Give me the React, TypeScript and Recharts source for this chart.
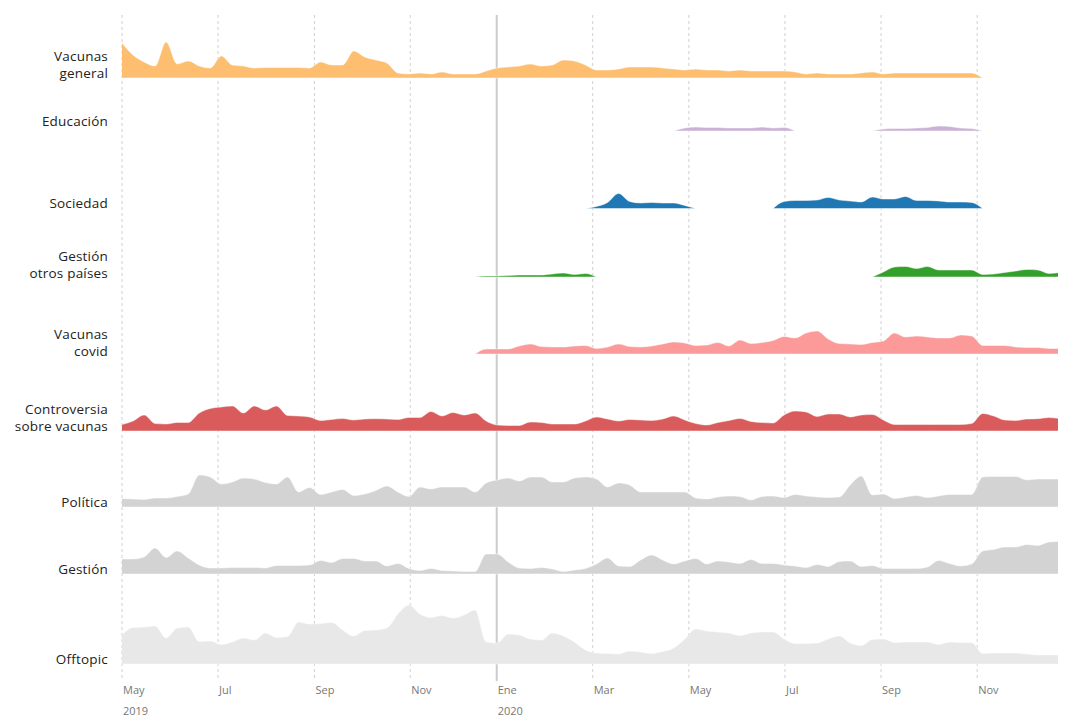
import React from 'react';
import { ComposedChart, Area, XAxis, YAxis, CartesianGrid } from 'recharts';

const _ = null;

// x categories: week index, week 0 = first week of May 2019
const weeks: number[] = Array.from({ length: 87 }, (_v, i) => i);

// month ticks (week positions) and labels
const tickWeeks = [0, 8.7, 17.44, 26.12, 33.96, 42.66, 51.37, 60.08, 68.79, 77.5];
const tickLabels = ['May', 'Jul', 'Sep', 'Nov', 'Ene', 'Mar', 'May', 'Jul', 'Sep', 'Nov'];
const tickYears = ['2019', '', '', '', '2020', '', '', '', '', ''];

// weekly activity per topic (relative height units)
const vacunasGeneral = [
  35, 23, 16, 12, 36, 14, 17, 12, 10, 22,
  13, 12, 10, 10.5, 10.5, 10.5, 10.5, 10, 16, 13,
  13, 27, 21, 18, 15, 5, 4, 5, 4, 6,
  4, 4, 4, 7, 10, 11, 12, 14, 12, 13,
  18, 17, 13, 8, 8, 9, 11, 11, 11, 10,
  9, 8, 9, 8, 8, 7, 8, 7, 7, 7,
  7, 6, 4, 5, 4, 4, 4, 5, 6, 4,
  5, 5, 5, 5, 5, 5, 5, 5, 0,
  _, _, _, _, _, _,
  0, 1,
];

const educacion = [
  _, _, _, _, _, _, _, _, _, _,
  _, _, _, _, _, _, _, _, _, _,
  _, _, _, _, _, _, _, _, _, _,
  _, _, _, _, _, _, _, _, _, _,
  _, _, _, _, _, _, _, _, _, _,
  0, 3, 4, 3.5, 3.5, 3, 3, 3, 4, 3, 3.5, 0,
  _, _, _, _, _, _,
  0, 2, 2.5, 2.5, 3, 3.5, 5, 4.5, 3, 2.5, 0,
  _, _, _, _, _, _,
  0, 0.5,
];

const sociedad = [
  _, _, _, _, _, _, _, _, _, _,
  _, _, _, _, _, _, _, _, _, _,
  _, _, _, _, _, _, _, _, _, _,
  _, _, _, _, _, _, _, _, _, _,
  _, _,
  0, 2, 6, 15, 7, 5.5, 6, 5.5, 5.5, 3, 0,
  _, _, _, _, _, _,
  0, 7, 8, 8, 8.5, 11, 8.5, 7.5, 6.5, 11.5, 9.5, 9.5, 12, 8, 8, 7.5, 6.5, 6.5, 6, 0,
  _, _, _, _, _, _,
  0, 1,
];

const gestionOtros = [
  _, _, _, _, _, _, _, _, _, _,
  _, _, _, _, _, _, _, _, _, _,
  _, _, _, _, _, _, _, _, _, _,
  _, _,
  0, 1, 1, 1.5, 2, 2, 2, 3, 4, 2.5, 3.5, 0,
  _, _, _, _, _, _, _, _, _, _,
  _, _, _, _, _, _, _, _, _, _,
  _, _, _, _,
  0, 5, 10, 10.5, 8.5, 10.5, 7, 7, 7, 7, 2.5, 3, 4.5, 6, 7.5, 7, 3.5, 4.5, 5,
];

const vacunasCovid = [
  _, _, _, _, _, _, _, _, _, _,
  _, _, _, _, _, _, _, _, _, _,
  _, _, _, _, _, _, _, _, _, _,
  _, _,
  0, 5, 5, 5, 8,
  10, 7.5, 7, 7, 8,
  8.5, 5.5, 7, 10, 7.5,
  7, 8, 10, 12, 11,
  8.5, 9, 11.5, 8, 14,
  10.5, 11.5, 13.5, 17.5, 16,
  21, 23, 15, 10.5, 10,
  9.5, 11.5, 13, 21, 17,
  18, 17, 16, 16, 19,
  18, 8.5, 8.5, 8.5, 7,
  6.5, 6.5, 5.5, 5.5, 5.5,
];

const controversia = [
  6.5, 10, 16, 7.5, 7, 8.5, 8.5, 18, 22.5, 24,
  25, 18, 25, 21, 25, 15.5, 15, 14, 10.5, 11.5,
  12.5, 11, 12, 12.3, 12, 11.5, 13.5, 13.5, 19.5, 15,
  18.5, 16, 18, 10, 6, 5.5, 5.5,
  9, 8.5, 7, 7, 7, 10, 14, 12, 10, 11.5,
  11, 10.5, 12, 15, 11, 7.5, 6, 8.5, 10.5, 12.5,
  9.5, 8.5, 8, 16, 20, 19, 14.5, 17, 17, 14,
  16, 16.5, 11, 6.5, 6.5, 6.5, 6.5, 6.5, 6.5, 6.5,
  7.5, 17.5, 15, 11, 10.5, 12, 12.3, 13.5, 12.5, 12.3,
];

const politica = [
  8.5, 8, 7.5, 9, 9, 10.5, 13, 32, 30, 23,
  25, 29, 28, 24.5, 23, 30, 15, 19.5, 12.5, 15,
  17.5, 11.5, 13, 16.5, 21, 15, 10.5, 20, 18, 20,
  20, 20, 15, 24, 27, 29, 26, 30,
  30, 25, 25, 29, 30, 28, 20, 24, 22, 15,
  15, 15, 15, 15, 9, 8, 10, 11, 10.5, 7,
  10.5, 11, 9.5, 12.5, 11, 10, 9.5, 10, 22, 31,
  12, 13, 8.5, 10, 11.5, 9.5, 11, 12.5, 12.5, 12.5,
  30, 30.5, 30.5, 30.5, 27, 28, 28, 28, 28,
];

const gestion = [
  15, 15, 17, 26, 16.5, 23, 16, 9, 6, 6,
  6.5, 6.5, 6.5, 6, 8.5, 8.5, 8.5, 9, 13.5, 11.5,
  15.5, 15.5, 13, 13, 8, 10.5, 5.5, 3.5, 5.5, 3.5,
  3, 2.5, 2.5, 20, 20, 12, 6, 5.5,
  6.5, 5, 2.5, 4, 5.5, 10, 16, 8, 7.5, 14,
  19, 14, 10, 13, 15.5, 10, 13, 12, 10.5, 14.5,
  10.5, 10.5, 9, 8, 6.5, 9.5, 7.5, 12.5, 13, 7.5,
  8.5, 5.5, 5.5, 5.5, 5.5, 7, 13.5, 10.5, 8, 10,
  23, 24.5, 27, 27, 29.5, 28.5, 32, 32.5, 32,
];

const offtopic = [
  29, 36.5, 37, 38, 26, 36, 37, 22.5, 23, 19.5,
  22, 26, 24, 31, 26.5, 27.5, 42, 40, 40.5, 41.5,
  34, 28, 33.5, 34, 36, 50, 59, 50, 46.5, 48.5,
  46, 49, 54, 22, 21, 30, 29, 25,
  24, 31, 28, 22, 14, 11, 10.5, 10, 13, 12,
  10.5, 12.5, 16, 25, 35, 33, 32, 31, 28.5, 31,
  32, 32, 25, 20.5, 20.5, 21, 25, 28, 21, 18.5,
  24.5, 25, 21.5, 22, 22, 22, 19.5, 22, 21.5, 21.5,
  10.5, 11, 11, 11, 10, 9, 9, 9, 9,
];

// row layout: baseline of each ridge (in px-units above the bottom of the plot)
const series = [
  { key: 'vacunasGeneral', values: vacunasGeneral, lines: ['Vacunas', 'general'], color: '#fdbf6f', base: 603, labelDy: 0 },
  { key: 'educacion', values: educacion, lines: ['Educación'], color: '#cab2d6', base: 550, labelDy: -5 },
  { key: 'sociedad', values: sociedad, lines: ['Sociedad'], color: '#1f78b4', base: 472.5, labelDy: -1 },
  { key: 'gestionOtros', values: gestionOtros, lines: ['Gestión', 'otros países'], color: '#33a02c', base: 404, labelDy: 1 },
  { key: 'vacunasCovid', values: vacunasCovid, lines: ['Vacunas', 'covid'], color: '#fb9a99', base: 327, labelDy: 2 },
  { key: 'controversia', values: controversia, lines: ['Controversia', 'sobre vacunas'], color: '#d95b5b', base: 250, labelDy: 0 },
  { key: 'politica', values: politica, lines: ['Política'], color: '#d3d3d3', base: 174, labelDy: 0 },
  { key: 'gestion', values: gestion, lines: ['Gestión'], color: '#d3d3d3', base: 107, labelDy: 0 },
  { key: 'offtopic', values: offtopic, lines: ['Offtopic'], color: '#e8e8e8', base: 17, labelDy: 0 },
];

const chartData = weeks.map((w, i) => {
  const row: Record<string, number | null> = { w };
  series.forEach((s) => {
    row[s.key] = s.values[i] as number | null;
  });
  return row;
});

const FONT = '"Open Sans", "DejaVu Sans", sans-serif';

const RowLabel = (props: any) => {
  const { x, y, payload } = props;
  const s = series.find((r) => r.base === payload.value);
  if (!s) return null;
  const n = s.lines.length;
  return (
    <g>
      {s.lines.map((ln, i) => (
        <text
          key={i}
          x={x}
          y={y + s.labelDy - (n - 1 - i) * 17}
          textAnchor="end"
          fontFamily={FONT}
          fontSize={13.5}
          letterSpacing={0.2}
          fill="#222"
        >
          {ln}
        </text>
      ))}
    </g>
  );
};

const MonthTick = (props: any) => {
  const { x, y, index } = props;
  const label = tickLabels[index];
  const year = tickYears[index];
  return (
    <g>
      <text x={x + 1} y={y + 13} fontFamily={FONT} fontSize={11} fill="#777" textAnchor="start">
        {label}
      </text>
      {year ? (
        <text x={x + 1} y={y + 34} fontFamily={FONT} fontSize={11} fill="#777" textAnchor="start">
          {year}
        </text>
      ) : null}
    </g>
  );
};

const GridLine = (p: any) => {
  const solid = p.index === 4;
  return (
    <line
      key={`grid-${p.index}`}
      x1={p.x1}
      y1={p.y1}
      x2={p.x2}
      y2={p.y2}
      stroke={solid ? '#cccccc' : '#d0d0d0'}
      strokeWidth={solid ? 2 : 1}
      strokeDasharray={solid ? undefined : '3 3'}
    />
  );
};

export default function App() {
  return (
    <div style={{ width: 1066, height: 710, marginLeft: -8 }}>
      <style>{'html { overflow: hidden; }'}</style>
      <ComposedChart
        width={1066}
        height={710}
        data={chartData}
        margin={{ top: 7, right: 0, bottom: 0, left: 0 }}
      >
        <CartesianGrid horizontal={false} syncWithTicks vertical={GridLine} />
        <XAxis
          type="number"
          dataKey="w"
          domain={[0, 85.55]}
          allowDataOverflow
          ticks={tickWeeks}
          interval={0}
          height={37}
          axisLine={false}
          tickLine={false}
          tickSize={0}
          tickMargin={0}
          tick={(p: any) => <MonthTick {...p} />}
        />
        <YAxis
          type="number"
          domain={[0, 666]}
          allowDataOverflow
          ticks={series.map((s) => s.base)}
          interval={0}
          width={122}
          axisLine={false}
          tickLine={false}
          tickSize={0}
          tickMargin={14}
          tick={(p: any) => <RowLabel {...p} />}
        />
        {series.map((s) => (
          <Area
            key={s.key}
            type="monotone"
            dataKey={(d: any) => (d[s.key] == null ? null : [s.base, s.base + d[s.key]])}
            fill={s.color}
            fillOpacity={1}
            stroke="#ffffff"
            strokeWidth={0.8}
            strokeOpacity={0.6}
            dot={false}
            activeDot={false}
            connectNulls={false}
            isAnimationActive={false}
          />
        ))}
      </ComposedChart>
    </div>
  );
}
